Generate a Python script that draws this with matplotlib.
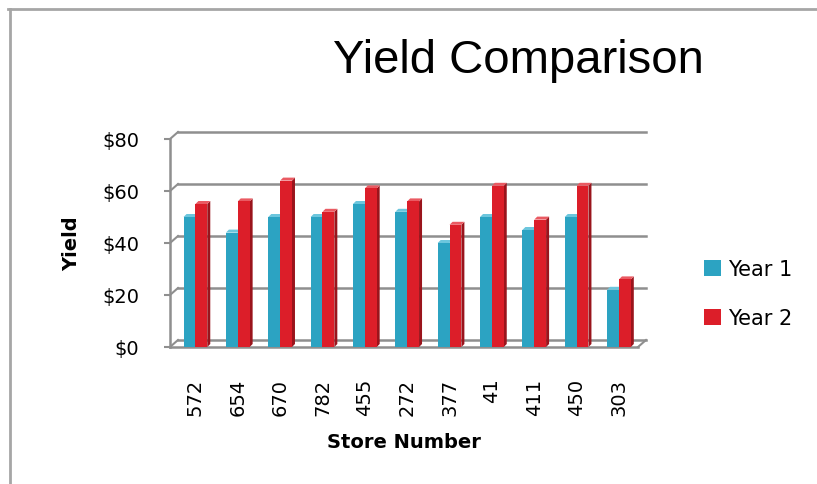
import matplotlib
matplotlib.use('Agg')
import matplotlib.pyplot as plt
from matplotlib.patches import Polygon, Patch
from matplotlib.lines import Line2D

# Data
stores = ['572', '654', '670', '782', '455', '272', '377', '41', '411', '450', '303']
year1 = [50, 44, 50, 50, 55, 52, 40, 50, 45, 50, 22]
year2 = [55, 56, 64, 52, 61, 56, 47, 62, 49, 62, 26]
y_ticks = [0, 20, 40, 60, 80]
y_labels = ['$0', '$20', '$40', '$60', '$80']

W, H = 817, 485
fig = plt.figure(figsize=(W / 100, H / 100), dpi=100)

# outer chart border (top and left only are visible)
fig.add_artist(Line2D([8 / W, 1], [1 - 10 / H, 1 - 10 / H], color='#a6a6a6', lw=2))
fig.add_artist(Line2D([10 / W, 10 / W], [0, 1 - 10 / H], color='#a6a6a6', lw=2))

# plot area in pixels
left, right, bottom, top = 170, 638, 348, 140
ax = fig.add_axes([left / W, 1 - bottom / H, (right - left) / W, (bottom - top) / H])
x0, x1 = -0.6, 10.45
ax.set_xlim(x0, x1)
ax.set_ylim(0, 80)

# pseudo-3D depth offsets (data units)
dx = 8 / ((right - left) / (x1 - x0))
dy = 7 / ((bottom - top) / 80)
sx = 3 / ((right - left) / (x1 - x0))
sy = 3 / ((bottom - top) / 80)

grid_c = '#8f8f8f'
for t in y_ticks:
    # back wall gridline
    ax.plot([x0 + dx, x1 + dx], [t + dy, t + dy], color=grid_c, lw=1.8, clip_on=False, zorder=1)
    # diagonal from front axis to back wall
    ax.plot([x0, x0 + dx], [t, t + dy], color=grid_c, lw=1.5, clip_on=False, zorder=1)
# floor front edge and right diagonal
ax.plot([x0, x1], [0, 0], color=grid_c, lw=1.8, clip_on=False, zorder=1)
ax.plot([x1, x1 + dx], [0, dy], color=grid_c, lw=1.5, clip_on=False, zorder=1)
# front vertical axis
ax.plot([x0, x0], [0, 80], color=grid_c, lw=1.8, clip_on=False, zorder=1)

bw = 0.28
xs = list(range(len(stores)))
series = [
    (year1, -bw / 2, '#2ca3c2', '#1d7a93', '#6cc6dd', 'Year 1'),
    (year2, bw / 2, '#dc1e29', '#9a141c', '#ea5a62', 'Year 2'),
]
for vals, off, c_front, c_side, c_top, name in series:
    for x, v in zip(xs, vals):
        xl = x + off - bw / 2
        xr = x + off + bw / 2
        # side face
        ax.add_patch(Polygon([(xr, 0), (xr + sx, sy), (xr + sx, v + sy), (xr, v)],
                             closed=True, facecolor=c_side, edgecolor='none', zorder=2))
        # top face
        ax.add_patch(Polygon([(xl, v), (xr, v), (xr + sx, v + sy), (xl + sx, v + sy)],
                             closed=True, facecolor=c_top, edgecolor='none', zorder=3))
    ax.bar([x + off for x in xs], vals, width=bw, color=c_front, zorder=3)

for s in ax.spines.values():
    s.set_visible(False)
ax.set_yticks(y_ticks)
ax.set_yticklabels(y_labels, fontsize=14, fontfamily='DejaVu Sans')
ax.tick_params(axis='y', length=4, width=1.5, color=grid_c, pad=18)
ax.set_xticks(xs)
ax.set_xticklabels(stores, rotation=90, fontsize=14, fontfamily='DejaVu Sans')
ax.tick_params(axis='x', length=0, pad=22)

fig.text(518 / W, 1 - 73 / H, 'Yield Comparison', fontsize=34, ha='center', va='baseline',
         fontfamily='Liberation Sans')
fig.text(404 / W, 1 - 443 / H, 'Store Number', fontsize=14, fontweight='bold',
         ha='center', va='center', fontfamily='DejaVu Sans')
fig.text(72 / W, 1 - 244 / H, 'Yield', fontsize=14, fontweight='bold', rotation=90,
         ha='center', va='center', fontfamily='DejaVu Sans')

handles = [Patch(facecolor='#2ca3c2', label='Year 1'), Patch(facecolor='#dc1e29', label='Year 2')]
fig.legend(handles=handles, loc='center left', bbox_to_anchor=(704 / W, 1 - 294.5 / H),
           frameon=False, fontsize=15, handlelength=0.8, handleheight=0.8,
           handletextpad=0.35, labelspacing=1.4, borderpad=0, borderaxespad=0)

fig.savefig('out.png', dpi=100)
